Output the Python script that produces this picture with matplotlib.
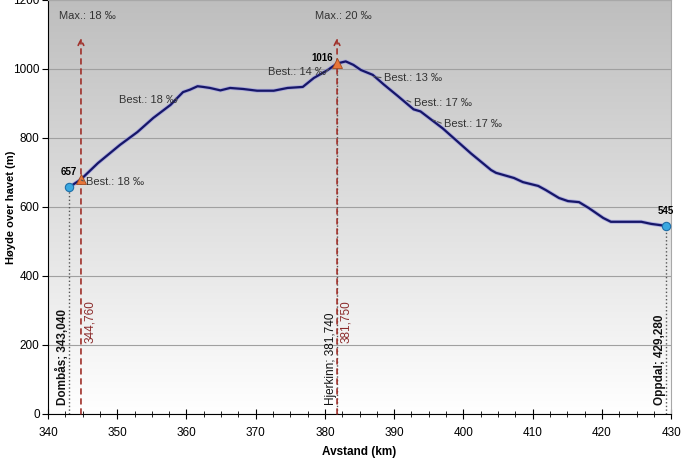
import numpy as np
import matplotlib
matplotlib.use("Agg")
from matplotlib import pyplot as plt
from matplotlib.colors import LinearSegmentedColormap

plt.rcParams['font.family'] = ['Liberation Sans', 'DejaVu Sans']

# høydeprofil Dombås - Oppdal
km = [343.04, 344.76, 347.2, 350.4, 352.9, 355.2, 357.7, 359.5, 360.5, 361.6,
      362.4, 363.4, 364.9, 366.3, 368.2, 370.2, 372.6, 374.6, 376.8, 378.4,
      380.4, 381.75, 383.0, 384.1, 385.2, 386.9, 388.5, 390.5, 392.8, 393.8,
      397.0, 401.1, 404.0, 404.7, 407.3, 408.6, 410.8, 411.9, 413.8, 415.1,
      416.7, 418.1, 420.2, 421.3, 425.7, 427.1, 429.28]
hoyde = [657, 680, 727, 780, 817, 858, 896, 933, 940, 950,
         948, 945, 938, 945, 942, 937, 937, 945, 948, 974,
         997, 1016, 1022, 1012, 997, 983, 955, 922, 883, 877,
         828, 755, 707, 699, 684, 672, 661, 649, 626, 617,
         614, 597, 568, 557, 557, 551, 545]

stasjoner = ["Dombås", "Hjerkinn", "Oppdal"]
stasjon_km = [343.04, 381.74, 429.28]
stasjon_hoyde = [657, 1016, 545]
stasjon_tekst = ["Dombås; 343,040", "Hjerkinn; 381,740", "Oppdal; 429,280"]

max_km = [344.76, 381.75]
max_hoyde = [680, 1016]
max_tekst = ["Max.: 18 ‰", "Max.: 20 ‰"]
max_km_tekst = ["344,760", "381,750"]

# bestemmende stigning
best_tekst = ["Best.: 18 ‰", "Best.: 18 ‰", "Best.: 14 ‰", "Best.: 13 ‰", "Best.: 17 ‰", "Best.: 17 ‰"]
best_km = [344.8, 358.4, 380.5, 387.0, 391.7, 395.6]
best_hoyde = [678, 915, 1000, 978, 910, 852]
best_tekst_km = [345.5, 350.3, 371.8, 388.5, 392.8, 397.2]
best_tekst_hoyde = [672, 910, 991, 974, 901, 840]
best_side = ['v', 'h', 'h', 'v', 'v', 'v']

fig = plt.figure(figsize=(6.81, 4.63), dpi=100)
ax = fig.add_axes([0.0705, 0.106, 0.915, 0.894])

# bakgrunn med gradient
cmap = LinearSegmentedColormap.from_list("bg", ["#ffffff", "#bebebe"])
grad = np.linspace(0, 1, 256).reshape(-1, 1)
ax.imshow(grad, extent=[340, 430, 0, 1200], origin='lower', aspect='auto', cmap=cmap, zorder=0)

ax.set_xlim(340, 430)
ax.set_ylim(0, 1200)
ax.set_xticks(range(340, 431, 10))
ax.set_xticks(np.arange(340, 430.1, 2.5), minor=True)
ax.set_yticks(range(0, 1201, 200))
ax.tick_params(axis='x', which='major', direction='inout', length=7, labelsize=8.5, pad=6)
ax.tick_params(axis='x', which='minor', direction='inout', length=4)
ax.tick_params(axis='y', which='major', direction='out', length=4, labelsize=8.5, pad=2)
ax.grid(axis='y', color='#a0a0a0', lw=0.8, zorder=0.5)
ax.set_axisbelow(True)
for s in ['top', 'right']:
    ax.spines[s].set_color('#a8a8a8')

ax.plot(km, hoyde, color='#9a9ae0', lw=2.8, alpha=0.7, zorder=3, solid_capstyle='round')
ax.plot(km, hoyde, color='#161668', lw=1.6, zorder=4)

# stasjoner
for k, h, t in zip(stasjon_km, stasjon_hoyde, stasjon_tekst):
    ax.plot([k, k], [0, h], ls=':', color='#555555', lw=1.0, zorder=2)
    vekt = 'normal' if t.startswith("Hjerkinn") else 'bold'
    ax.text(k - 0.9, 26, t, rotation=90, ha='center', va='bottom', fontsize=8.5,
            fontweight=vekt, color='#111111', zorder=6)
ax.plot([stasjon_km[0], stasjon_km[2]], [stasjon_hoyde[0], stasjon_hoyde[2]], 'o', ls='none',
        ms=6, color='#3aa8e0', mec='#1f6fa8', mew=0.8, zorder=6)
for k, h, dk, dh in zip(stasjon_km, stasjon_hoyde, [0, -2.1, 0], [44, 16, 43]):
    ax.text(k + dk, h + dh, str(h), ha='center', va='center', fontsize=7, fontweight='bold', zorder=6)

# maks stigning
for k, h, t, kt in zip(max_km, max_hoyde, max_tekst, max_km_tekst):
    ax.annotate("", xy=(k, 1090), xytext=(k, 0),
                arrowprops=dict(arrowstyle='->', color='#a0302a', lw=1.2, ls=(0, (3, 3)),
                                shrinkA=0, shrinkB=0), zorder=5)
    ax.plot(k, h, '^', ms=7, color='#e8763a', mec='#a04a20', mew=0.6, zorder=7)
    ax.text(k + 0.9, 1155, t, ha='center', va='center', fontsize=8, color='#333333')
    ax.text(k + 1.3, 206, kt, rotation=90, ha='center', va='bottom', fontsize=8.5,
            color='#8b2a2a', zorder=6)

# bestemmende stigning, stiplet linje fra teksten til kurven
for t, k, h, tk, th, side in zip(best_tekst, best_km, best_hoyde, best_tekst_km,
                                  best_tekst_hoyde, best_side):
    rel = (1, 0.5) if side == 'h' else (0, 0.5)
    ax.annotate(t, xy=(k, h), xytext=(tk, th), ha='left', va='center', fontsize=8,
                color='#333333', zorder=8,
                arrowprops=dict(arrowstyle='-', color='#555555', lw=0.8, ls='--',
                                shrinkA=0, shrinkB=0, relpos=rel))

ax.set_xlabel("Avstand (km)", fontsize=8.5, fontweight='bold', labelpad=5)
ax.set_ylabel("Høyde over havet (m)", fontsize=8, fontweight='bold', va='center')
ax.yaxis.set_label_coords(-0.060, 0.5)

fig.savefig("out.png", dpi=100)
